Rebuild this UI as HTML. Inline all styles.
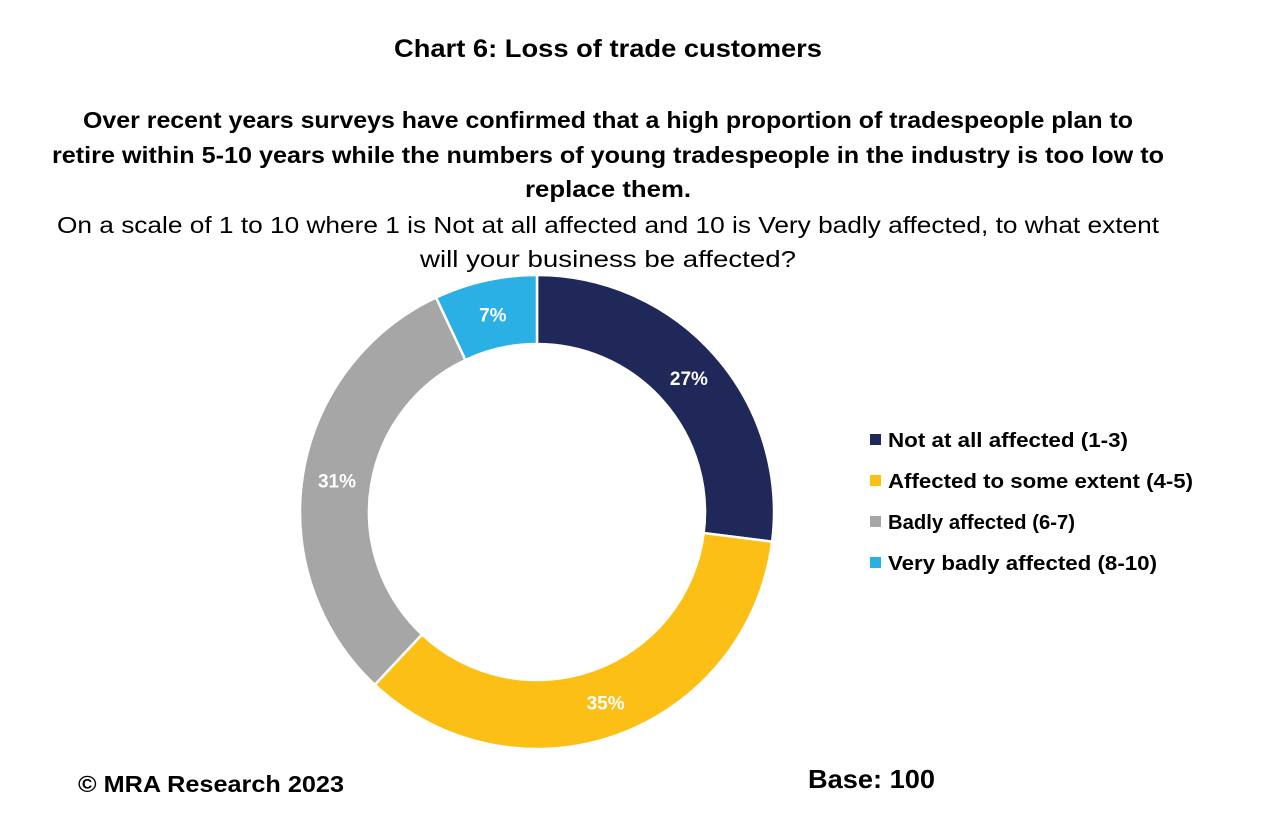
<!DOCTYPE html>
<html><head><meta charset="utf-8"><style>
html,body{margin:0;padding:0;background:#fff;}
svg{display:block;font-family:"Liberation Sans",sans-serif;}
</style></head><body>
<svg id="chart" width="1271" height="816" viewBox="0 0 1271 816">
<text x="608" y="57" text-anchor="middle" font-size="25" font-weight="bold" textLength="428" lengthAdjust="spacingAndGlyphs">Chart 6: Loss of trade customers</text>
<g font-size="23" font-weight="bold" text-anchor="middle">
<text x="608" y="128" textLength="1050" lengthAdjust="spacingAndGlyphs">Over recent years surveys have confirmed that a high proportion of tradespeople plan to</text>
<text x="608" y="163" textLength="1112" lengthAdjust="spacingAndGlyphs">retire within 5-10 years while the numbers of young tradespeople in the industry is too low to</text>
<text x="608" y="197" textLength="166" lengthAdjust="spacingAndGlyphs">replace them.</text>
</g>
<g font-size="23" text-anchor="middle">
<text x="608" y="233" textLength="1102" lengthAdjust="spacingAndGlyphs">On a scale of 1 to 10 where 1 is Not at all affected and 10 is Very badly affected, to what extent</text>
<text x="608" y="267" textLength="376" lengthAdjust="spacingAndGlyphs">will your business be affected?</text>
</g>
<g id="slices"></g>
<g id="labels" font-size="19" font-weight="bold" fill="#fff" text-anchor="middle"></g>
<g id="legend" font-size="20" font-weight="bold"></g>
<text x="78" y="792" font-size="23" font-weight="bold" textLength="266" lengthAdjust="spacingAndGlyphs">© MRA Research 2023</text>
<text x="808" y="788" font-size="26" font-weight="bold" textLength="127" lengthAdjust="spacingAndGlyphs">Base: 100</text>
</svg>
<script>
const categories=["Not at all affected (1-3)","Affected to some extent (4-5)","Badly affected (6-7)","Very badly affected (8-10)"];
const values=[27,35,31,7];
const colors=["#1f2858","#fbbf16","#a6a6a6","#2bb0e6"];
const legendWidths=[240,305,187,269];
const ns="http://www.w3.org/2000/svg";
const cx=537,cy=512,R=237,r=168;
const total=values.reduce((a,b)=>a+b,0);
const sg=document.getElementById("slices"),lg=document.getElementById("labels"),leg=document.getElementById("legend");
function pt(rad,a){return [cx+rad*Math.sin(a),cy-rad*Math.cos(a)];}
let acc=0;
values.forEach((v,i)=>{
 const a0=acc/total*2*Math.PI,a1=(acc+v)/total*2*Math.PI;acc+=v;
 const big=a1-a0>Math.PI?1:0;
 const [x0,y0]=pt(R,a0),[x1,y1]=pt(R,a1),[x2,y2]=pt(r,a1),[x3,y3]=pt(r,a0);
 const p=document.createElementNS(ns,"path");
 p.setAttribute("d",`M${x0},${y0}A${R},${R} 0 ${big} 1 ${x1},${y1}L${x2},${y2}A${r},${r} 0 ${big} 0 ${x3},${y3}Z`);
 p.setAttribute("fill",colors[i]);p.setAttribute("stroke","#fff");p.setAttribute("stroke-width","2.5");
 
 
 sg.appendChild(p);
 const [lx,ly]=pt((R+r)/2,(a0+a1)/2);
 const t=document.createElementNS(ns,"text");
 t.setAttribute("x",lx);t.setAttribute("y",ly+7);t.textContent=v+"%";
 
 
 lg.appendChild(t);
 const sq=document.createElementNS(ns,"rect");
 sq.setAttribute("x",870);sq.setAttribute("y",434+i*41);sq.setAttribute("width",11);sq.setAttribute("height",11);sq.setAttribute("fill",colors[i]);
 
 
 leg.appendChild(sq);
 const lt=document.createElementNS(ns,"text");
 lt.setAttribute("x",888);lt.setAttribute("y",447+i*41);lt.textContent=categories[i];
 lt.setAttribute("textLength",legendWidths[i]);lt.setAttribute("lengthAdjust","spacingAndGlyphs");
 
 
 leg.appendChild(lt);
});
</script>
</body></html>
